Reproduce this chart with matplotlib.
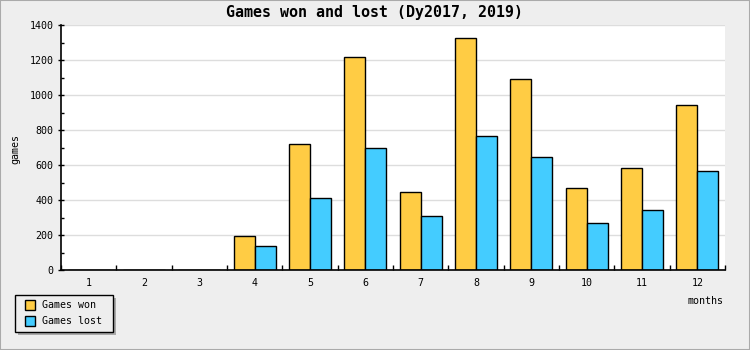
import matplotlib
matplotlib.use("Agg")
import matplotlib.pyplot as plt
import numpy as np
from matplotlib.patches import Rectangle
from matplotlib.ticker import MultipleLocator, FixedLocator

months = ["1", "2", "3", "4", "5", "6", "7", "8", "9", "10", "11", "12"]
games_won = [0, 0, 0, 193, 720, 1215, 444, 1325, 1089, 467, 581, 941]
games_lost = [0, 0, 0, 135, 410, 695, 307, 764, 644, 267, 341, 564]
series_names = ["Games won", "Games lost"]
series_colors = ["#ffcc44", "#44ccff"]

W, H = 750, 350
plt.rcParams['font.family'] = ['DejaVu Sans Mono']
fig = plt.figure(figsize=(W / 100, H / 100), dpi=100, facecolor='#eeeeee')


def fx(px):
    return px / W


def fy(py):
    return 1 - py / H


# border
fig.patches.append(Rectangle((0, 0), 1, 1, transform=fig.transFigure,
                             fill=False, edgecolor='#aaaaaa', linewidth=1.5))

L, R, T, B = 61, 725, 25, 270
ax = fig.add_axes([L / W, (H - B) / H, (R - L) / W, (B - T) / H])
ax.set_facecolor('white')

x = np.arange(1, len(months) + 1)
bw = 0.38
ax.bar(x - bw / 2, games_won, width=bw, color=series_colors[0], edgecolor='black',
       linewidth=1, label=series_names[0], zorder=3)
ax.bar(x + bw / 2, games_lost, width=bw, color=series_colors[1], edgecolor='black',
       linewidth=1, label=series_names[1], zorder=3)

ax.set_xlim(0.5, 12.5)
ax.set_ylim(0, 1400)
ax.set_xticks(x)
ax.set_xticklabels(months)
ax.xaxis.set_minor_locator(FixedLocator(np.arange(0.5, 13, 1)))
ax.yaxis.set_major_locator(MultipleLocator(200))
ax.yaxis.set_minor_locator(MultipleLocator(100))

ax.tick_params(axis='x', which='major', length=0, pad=6, labelsize=7.2)
ax.tick_params(axis='x', which='minor', direction='in', length=3.5, width=1)
ax.tick_params(axis='y', which='major', direction='inout', length=4.5, width=1,
               pad=3, labelsize=7.2)
ax.tick_params(axis='y', which='minor', direction='in', length=2, width=1)

ax.grid(axis='y', which='major', color='#dddddd', linewidth=1, zorder=0)
for s in ['top', 'right']:
    ax.spines[s].set_visible(False)
for s in ['left', 'bottom']:
    ax.spines[s].set_linewidth(1.2)
    ax.spines[s].set_zorder(4)

fig.text(fx(375), fy(12.5), "Games won and lost (Dy2017, 2019)",
         ha='center', va='center', fontsize=10.8, fontweight='bold')
fig.text(fx(15), fy(149), "games", rotation=90, ha='center', va='center',
         fontsize=7.2)
fig.text(fx(724), fy(301), "months", ha='right', va='center', fontsize=7.2)

# legend (drawn in figure pixel positions)
lx0, ly0, lx1, ly1 = 15, 295, 113, 332
fig.patches.append(Rectangle((fx(lx0 + 3), fy(ly1 + 3)), fx(lx1 - lx0) , (ly1 - ly0) / H,
                             transform=fig.transFigure, facecolor='#aaaaaa',
                             edgecolor='none', zorder=1))
fig.patches.append(Rectangle((fx(lx0), fy(ly1)), fx(lx1 - lx0), (ly1 - ly0) / H,
                             transform=fig.transFigure, facecolor='#eeeeee',
                             edgecolor='black', linewidth=1, zorder=2))
for i, (name, col) in enumerate(zip(series_names, series_colors)):
    top = 300 + 16 * i
    fig.patches.append(Rectangle((fx(25), fy(top + 10)), fx(10), 10 / H,
                                 transform=fig.transFigure, facecolor=col,
                                 edgecolor='black', linewidth=1, zorder=3))
    fig.text(fx(42.5), fy(top + 5), name, ha='left', va='center',
             fontsize=7.2, zorder=4)

fig.savefig("out.png", dpi=100, facecolor=fig.get_facecolor())
